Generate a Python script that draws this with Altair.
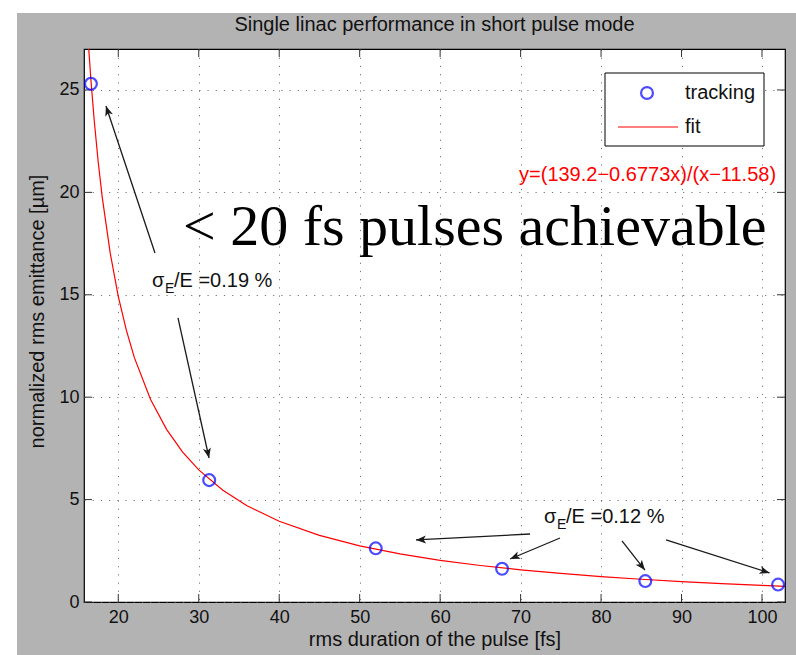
import math
import altair as alt
import pandas as pd

# ---------------- data ----------------
pulse_fs = [16.6, 31.3, 52.0, 67.7, 85.5, 102.0]
emittance_um = [25.3, 5.95, 2.62, 1.62, 1.02, 0.85]

fit_x = [16.33, 16.6, 17.0, 17.5, 18.0, 19.0, 20.0, 21.0, 22.0, 24.0, 26.0, 28.0, 30.0,
         33.0, 36.0, 40.0, 45.0, 50.0, 55.0, 60.0, 65.0, 70.0, 75.0, 80.0, 85.0, 90.0,
         95.0, 100.0, 102.86]
fit_y = [27.0, 25.49, 23.56, 21.51, 19.78, 17.03, 14.92, 13.27, 11.93, 9.90, 8.43, 7.32,
         6.45, 5.455, 4.70, 3.945, 3.253, 2.742, 2.348, 2.036, 1.782, 1.571, 1.394, 1.243,
         1.112, 0.998, 0.897, 0.808, 0.762]

x_ticks = [20, 30, 40, 50, 60, 70, 80, 90, 100]
y_ticks = [0, 5, 10, 15, 20, 25]

# annotation arrows (start -> tip), data coordinates
arrow_x0 = [24.56, 27.42, 71.17, 74.90, 82.60, 88.07]
arrow_y0 = [17.04, 13.87, 3.32, 3.125, 2.98, 3.03]
arrow_x1 = [18.47, 31.28, 57.00, 68.69, 85.45, 100.94]
arrow_y1 = [24.22, 7.03, 3.03, 2.10, 1.56, 1.42]

# label anchors
sigma_x = [24.19, 72.91]
sigma_y = [15.67, 4.15]
sigma_rest = ["/E =0.19 %", "/E =0.12 %"]

title_text = "Single linac performance in short pulse mode"
x_title = "rms duration of the pulse [fs]"
y_title = "normalized rms emittance [µm]"
fit_label = "y=(139.2−0.6773x)/(x−11.58)"
big_label = "< 20 fs pulses achievable"

# ---------------- layout ----------------
X_DOM = [15.74, 102.86]
Y_DOM = [0, 27]
W, H = 701, 553
SANS = "Liberation Sans"
SERIF = "Liberation Serif"
FS = 20

xs = alt.Scale(domain=X_DOM, nice=False, zero=False)
ys = alt.Scale(domain=Y_DOM, nice=False, zero=False)

pts = pd.DataFrame({"x": pulse_fs, "y": emittance_um})
fit = pd.DataFrame({"x": fit_x, "y": fit_y})

angles = []
for a, b, c, d in zip(arrow_x0, arrow_y0, arrow_x1, arrow_y1):
    dxp = (c - a) * W / (X_DOM[1] - X_DOM[0])
    dyp = -(d - b) * H / (Y_DOM[1] - Y_DOM[0])
    angles.append(math.degrees(math.atan2(dxp, -dyp)) % 360)
arrows = pd.DataFrame({"x0": arrow_x0, "y0": arrow_y0, "x1": arrow_x1, "y1": arrow_y1,
                       "ang": angles})
sig = pd.DataFrame({"x": sigma_x, "y": sigma_y, "rest": sigma_rest})
xt = pd.DataFrame({"v": x_ticks})
yt = pd.DataFrame({"v": y_ticks})
one = alt.Data(values=[{"k": 0}])

# white margins outside the gray figure area
strips = [
    alt.Chart(one).mark_rect(color="white", clip=False).encode(
        x=alt.value(-84), x2=alt.value(-67), y=alt.value(-49), y2=alt.value(H + 53)),
    alt.Chart(one).mark_rect(color="white", clip=False).encode(
        x=alt.value(-84), x2=alt.value(W + 11), y=alt.value(-49), y2=alt.value(-36)),
]

title = alt.Chart(one).mark_text(text=title_text, font=SANS, fontSize=FS, align="center",
                                 baseline="middle", color="#111").encode(
    x=alt.value(W / 2), y=alt.value(-24))

base_axes = alt.Chart(fit).mark_line(color="red", strokeWidth=1.2, clip=True).encode(
    x=alt.X("x:Q", scale=xs,
            axis=alt.Axis(values=x_ticks, title=x_title,
                          grid=True, ticks=False, domain=False, labelPadding=6,
                          titleY=37, titleBaseline="middle")),
    y=alt.Y("y:Q", scale=ys,
            axis=alt.Axis(values=y_ticks, title=y_title,
                          grid=True, ticks=False, domain=False, labelPadding=5,
                          titleX=-47, titleY=262, titleAngle=-90, titleAlign="center",
                          titleBaseline="middle")),
    order=alt.Order("x:Q"),
)

points = alt.Chart(pts).mark_point(shape="circle", filled=False, color="#0000ff",
                                   strokeWidth=2.2, size=140, clip=False).encode(
    x=alt.X("x:Q", scale=xs), y=alt.Y("y:Q", scale=ys))

tick_col = "#333333"
ticks = [
    alt.Chart(xt).mark_rule(color=tick_col).encode(
        x=alt.X("v:Q", scale=xs), y=alt.value(H - 8), y2=alt.value(H)),
    alt.Chart(xt).mark_rule(color=tick_col).encode(
        x=alt.X("v:Q", scale=xs), y=alt.value(0), y2=alt.value(8)),
    alt.Chart(yt).mark_rule(color=tick_col).encode(
        y=alt.Y("v:Q", scale=ys), x=alt.value(0), x2=alt.value(8)),
    alt.Chart(yt).mark_rule(color=tick_col).encode(
        y=alt.Y("v:Q", scale=ys), x=alt.value(W - 8), x2=alt.value(W)),
]

arrow_lines = alt.Chart(arrows).mark_rule(color="#1a1a1a", strokeWidth=1.3).encode(
    x=alt.X("x0:Q", scale=xs), y=alt.Y("y0:Q", scale=ys),
    x2="x1:Q", y2="y1:Q")
arrow_heads = alt.Chart(arrows).mark_point(
    shape="M0,0 L0.4,1 L0,0.75 L-0.4,1 Z", filled=True, color="#1a1a1a",
    size=400, opacity=1).encode(
    x=alt.X("x1:Q", scale=xs), y=alt.Y("y1:Q", scale=ys), angle=alt.Angle("ang:Q", scale=None))

sigma = alt.Chart(sig).mark_text(text="σ", font=SANS, fontSize=FS, align="left",
                                 baseline="middle", color="#111").encode(
    x=alt.X("x:Q", scale=xs), y=alt.Y("y:Q", scale=ys))
sigma_sub = alt.Chart(sig).mark_text(text="E", font=SANS, fontSize=14, align="left",
                                     baseline="middle", color="#111", dx=13, dy=8).encode(
    x=alt.X("x:Q", scale=xs), y=alt.Y("y:Q", scale=ys))
sigma_txt = alt.Chart(sig).mark_text(font=SANS, fontSize=FS, align="left",
                                     baseline="middle", color="#111", dx=22).encode(
    x=alt.X("x:Q", scale=xs), y=alt.Y("y:Q", scale=ys), text="rest:N")

eq = alt.Chart(one).mark_text(text=fit_label, font=SANS, fontSize=FS,
                              align="right", baseline="middle", color="#ff0000").encode(
    x=alt.datum(101.75, scale=xs), y=alt.datum(20.85, scale=ys))

big = alt.Chart(one).mark_text(text=big_label, font=SERIF, fontSize=58,
                               align="left", baseline="alphabetic", color="black").encode(
    x=alt.datum(28.04, scale=xs), y=alt.datum(17.45, scale=ys))

legend = [
    alt.Chart(one).mark_rect(fill="white", stroke="black", strokeWidth=1).encode(
        x=alt.value(521), x2=alt.value(680), y=alt.value(24), y2=alt.value(97)),
    alt.Chart(one).mark_point(shape="circle", filled=False, color="#0000ff",
                              strokeWidth=2.2, size=140).encode(
        x=alt.value(563), y=alt.value(44)),
    alt.Chart(one).mark_rule(color="red", strokeWidth=1.2).encode(
        x=alt.value(534), x2=alt.value(594), y=alt.value(78)),
    alt.Chart(one).mark_text(text="tracking", font=SANS, fontSize=FS, align="left",
                             baseline="middle", color="#111").encode(
        x=alt.value(601), y=alt.value(44)),
    alt.Chart(one).mark_text(text="fit", font=SANS, fontSize=FS, align="left",
                             baseline="middle", color="#111").encode(
        x=alt.value(601), y=alt.value(78)),
]

chart = alt.layer(
    *strips, title, base_axes, *ticks, points, arrow_lines, arrow_heads,
    sigma, sigma_sub, sigma_txt, eq, big, *legend
).properties(
    width=W, height=H,
    autosize=alt.AutoSizeParams(type="none"),
    padding={"left": 84, "top": 49, "right": 11, "bottom": 53},
    background="#b3b3b3",
).configure_view(
    fill="white", stroke="black", strokeWidth=1.2
).configure_axis(
    labelFont=SANS, labelFontSize=18, labelColor="#111",
    titleFont=SANS, titleFontSize=FS, titleFontWeight="normal", titleColor="#111",
    gridColor="#555555", gridDash=[1.2, 7], gridWidth=1, gridOpacity=0.8,
)

chart.save("out.html", embed_options={"renderer": "svg", "actions": False})
